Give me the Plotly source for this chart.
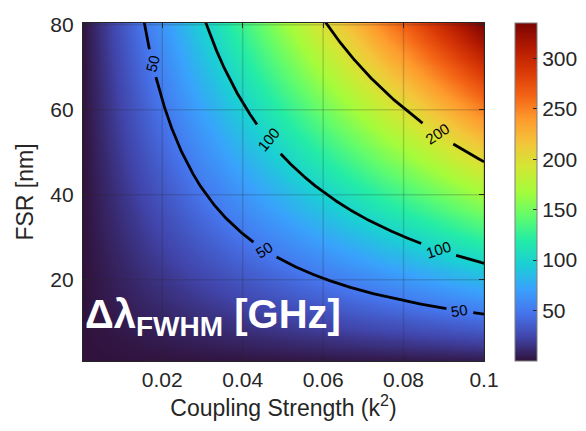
import numpy as np
import plotly.graph_objects as go

# ---- data ----
k2_values = np.linspace(0.0, 0.1, 201)          # coupling strength k^2
fsr_nm_values = np.linspace(0.5, 80.5, 161)      # FSR [nm]
wavelength_nm = 1550.0
c_light = 299792458.0
contour_levels = [50, 100, 200]
# k^2 positions where each contour carries its inline label
contour_label_k2 = {50: [0.0176, 0.0455, 0.094], 100: [0.0464, 0.0887], 200: [0.0885]}
x_ticks = [0.02, 0.04, 0.06, 0.08, 0.1]
x_ticklabels = ["0.02", "0.04", "0.06", "0.08", "0.1"]
y_ticks = [20, 40, 60, 80]
cbar_ticks = [50, 100, 150, 200, 250, 300]

# FWHM [GHz] of ring resonance: FSR * k^2 / (pi * sqrt(1 - k^2))
ghz_per_nm = c_light / (wavelength_nm * 1e-9) ** 2 * 1e-9 / 1e9
K2, F = np.meshgrid(k2_values, fsr_nm_values)
fwhm = F * ghz_per_nm * K2 / (np.pi * np.sqrt(1 - K2))


def fsr_on_level(level, k2):
    return level * np.pi * np.sqrt(1 - k2) / (ghz_per_nm * k2)


font_family = "Liberation Sans, Arial, sans-serif"
txt = "#262626"

# plot geometry (pixels) used to orient labels along the curves
W, H = 586, 431
ML, MR, MT, MB = 75, 96, 15, 78
XR = [0.0003, 0.1]
YR = [0.9, 80.4]
pw, ph = W - ML - MR, H - MT - MB
sx = pw / (XR[1] - XR[0])
sy = ph / (YR[1] - YR[0])

fig = go.Figure()
fig.add_trace(go.Heatmap(
    x=k2_values, y=fsr_nm_values, z=fwhm,
    colorscale="Turbo", zsmooth="best",
    zmin=0, zmax=float(fwhm[fsr_nm_values <= 80.4][-1].max()),
    colorbar=dict(
        x=(522 - ML) / pw, xanchor="left", xpad=0, y=0.5, yanchor="middle",
        len=1.0, lenmode="fraction", thickness=22, thicknessmode="pixels",
        outlinewidth=1, outlinecolor="#7f7f7f",
        tickvals=cbar_ticks, ticks="inside", ticklen=4, tickcolor="#262626",
        tickfont=dict(family=font_family, size=21, color=txt),
        ypad=0,
    ),
    hoverinfo="skip",
))

k_dense = np.linspace(0.005, 0.1, 3000)
for lv in contour_levels:
    fy = fsr_on_level(lv, k_dense)
    px = (k_dense - XR[0]) * sx
    py = (fy - YR[0]) * sy
    keep = fy <= YR[1] + 1
    mask = np.ones_like(k_dense, dtype=bool)
    for kl in contour_label_k2[lv]:
        fl = fsr_on_level(lv, kl)
        lx = (kl - XR[0]) * sx
        ly = (fl - YR[0]) * sy
        rad = 14 if lv < 100 else 19
        d = np.hypot(px - lx, py - ly)
        mask &= d > rad
        # angle of curve at label (screen coords, clockwise positive)
        dk = 1e-4
        dxp = dk * sx
        dyp = (fsr_on_level(lv, kl + dk) - fsr_on_level(lv, kl - dk)) / 2 * sy
        ang = np.degrees(np.arctan2(-dyp, dxp))
        fig.add_annotation(x=kl, y=fl, xref="x", yref="y", text=str(lv),
                           showarrow=False, textangle=-ang,
                           font=dict(family=font_family, size=15, color="black"))
    xs = np.where(mask & keep, k_dense, np.nan)
    ys = np.where(mask & keep, fy, np.nan)
    fig.add_trace(go.Scatter(x=xs, y=ys, mode="lines",
                             line=dict(color="black", width=2.8),
                             connectgaps=False, hoverinfo="skip"))

# grid lines drawn above the heatmap
for xv in x_ticks:
    fig.add_shape(type="line", xref="x", yref="paper", x0=xv, x1=xv, y0=0, y1=1,
                  line=dict(color="rgba(40,40,40,0.2)", width=1.5), layer="above")
for yv in y_ticks:
    fig.add_shape(type="line", xref="paper", yref="y", x0=0, x1=1, y0=yv, y1=yv,
                  line=dict(color="rgba(40,40,40,0.2)", width=1.5), layer="above")

fig.add_annotation(
    xref="paper", yref="paper", x=0.0, y=0.05, xanchor="left", yanchor="bottom",
    text="<b>Δλ<sub>FWHM</sub> [GHz]</b>", showarrow=False,
    font=dict(family=font_family, size=40, color="white"),
)

axis_common = dict(
    showline=True, linecolor="#262626", linewidth=1.2, mirror="ticks",
    ticks="inside", ticklen=5, tickcolor="#262626", showgrid=False, zeroline=False,
    tickfont=dict(family=font_family, size=21, color=txt),
    layer="above traces", automargin=False,
)

fig.update_layout(
    width=W, height=H,
    margin=dict(l=ML, r=MR, t=MT, b=MB),
    paper_bgcolor="white", plot_bgcolor="white",
    showlegend=False,
    xaxis=dict(range=XR, tickvals=x_ticks, ticktext=x_ticklabels,
               title=dict(text="Coupling Strength (k<sup>2</sup>)", standoff=8,
                          font=dict(family=font_family, size=23, color=txt)),
               **axis_common),
    yaxis=dict(range=YR, tickvals=y_ticks,
               title=dict(text="FSR [nm]", standoff=10,
                          font=dict(family=font_family, size=23, color=txt)),
               ticklabelstandoff=4,
               **axis_common),
)

fig.write_html("out.html")
